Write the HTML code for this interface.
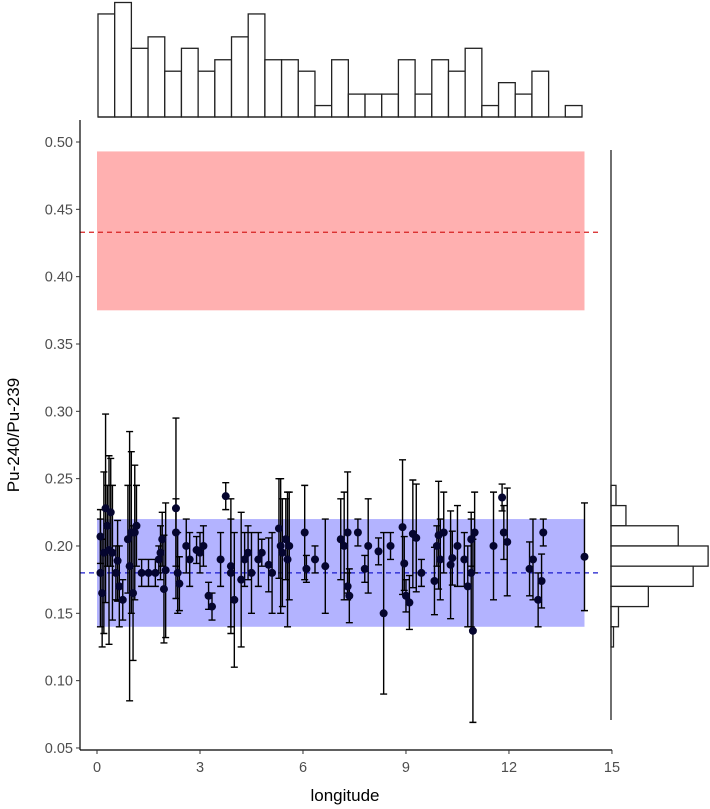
<!DOCTYPE html>
<html><head><meta charset="utf-8"><style>
html,body{margin:0;padding:0;background:#fff;}
svg{display:block;font-family:"Liberation Sans",sans-serif;}
</style></head><body>
<svg id="chart" width="710" height="809"></svg>
<script>
const lon = [0.1,0.1,0.15,0.2,0.25,0.3,0.35,0.4,0.45,0.55,0.6,0.65,0.75,0.9,0.95,1.0,1.05,1.1,1.15,1.3,1.5,1.7,1.8,1.85,1.9,1.95,2.0,2.3,2.3,2.35,2.4,2.6,2.7,2.9,3.0,3.1,3.25,3.35,3.6,3.75,3.9,3.9,4.0,4.2,4.3,4.4,4.5,4.7,4.8,5.0,5.1,5.3,5.35,5.4,5.5,5.55,5.6,6.05,6.1,6.35,6.65,7.1,7.2,7.3,7.3,7.35,7.6,7.8,7.9,8.2,8.35,8.55,8.9,8.95,9.0,9.1,9.2,9.3,9.45,9.83,9.9,9.95,10.0,10.1,10.3,10.35,10.5,10.7,10.8,10.9,10.9,10.95,11.0,11.55,11.8,11.85,11.95,12.6,12.7,12.85,12.95,13.0,14.2];
const ratio = [0.207,0.18,0.165,0.195,0.228,0.215,0.197,0.225,0.195,0.18,0.189,0.17,0.16,0.205,0.185,0.21,0.165,0.21,0.215,0.18,0.18,0.18,0.19,0.195,0.205,0.168,0.182,0.228,0.21,0.18,0.172,0.2,0.19,0.197,0.195,0.2,0.163,0.155,0.19,0.237,0.185,0.18,0.16,0.175,0.19,0.195,0.18,0.19,0.195,0.186,0.18,0.213,0.2,0.195,0.205,0.19,0.2,0.21,0.183,0.19,0.185,0.205,0.2,0.21,0.17,0.163,0.21,0.183,0.2,0.196,0.15,0.2,0.214,0.187,0.163,0.158,0.209,0.206,0.18,0.174,0.2,0.208,0.19,0.21,0.186,0.191,0.2,0.19,0.17,0.18,0.205,0.137,0.21,0.2,0.236,0.21,0.203,0.183,0.19,0.16,0.174,0.21,0.192];
const err = [0.02,0.04,0.04,0.06,0.07,0.03,0.07,0.04,0.05,0.02,0.03,0.03,0.015,0.04,0.1,0.06,0.05,0.05,0.03,0.01,0.01,0.01,0.01,0.02,0.02,0.04,0.05,0.067,0.025,0.03,0.02,0.02,0.02,0.01,0.015,0.015,0.01,0.01,0.02,0.01,0.05,0.04,0.05,0.05,0.02,0.02,0.03,0.02,0.01,0.02,0.03,0.037,0.05,0.04,0.03,0.05,0.04,0.035,0.01,0.01,0.035,0.03,0.04,0.045,0.01,0.02,0.01,0.01,0.035,0.01,0.06,0.01,0.05,0.02,0.012,0.02,0.04,0.04,0.01,0.025,0.015,0.04,0.03,0.03,0.04,0.02,0.03,0.02,0.03,0.04,0.02,0.068,0.03,0.04,0.01,0.02,0.04,0.02,0.03,0.02,0.02,0.01,0.04];
const topCounts = [9,10,6,7,4,6,4,5,7,9,5,5,4,1,5,2,2,2,5,2,5,4,6,1,3,2,4,0,1];
const rightCounts = [2,6,27,39,33,15,3,1];
const rightBinTop = 0.245, rightBinWidth = 0.015;
const yTicks = [0.05,0.10,0.15,0.20,0.25,0.30,0.35,0.40,0.45,0.50];
const xTicks = [0,3,6,9,12,15];
const pinkBand = [0.375,0.493], pinkMean = 0.433;
const blueBand = [0.14,0.22], blueMean = 0.18;
const lonMin = 0, lonMax = 14.2;

const NS='http://www.w3.org/2000/svg';
const svg=document.getElementById('chart');
const X=v=>97+v*34.33;
const Y=v=>142+(0.5-v)/0.05*67.33;
function mk(tag,attrs,parent){const e=document.createElementNS(NS,tag);for(const k in attrs)e.setAttribute(k,attrs[k]);(parent||svg).appendChild(e);return e;}

let e=mk('rect',{x:X(lonMin),y:Y(pinkBand[1]),width:X(lonMax)-X(lonMin),height:Y(pinkBand[0])-Y(pinkBand[1]),fill:'#ffb0b0'});


e=mk('rect',{x:X(lonMin),y:Y(blueBand[1]),width:X(lonMax)-X(lonMin),height:Y(blueBand[0])-Y(blueBand[1]),fill:'#b3b3ff'});


e=mk('line',{x1:80,x2:600,y1:Y(pinkMean),y2:Y(pinkMean),stroke:'#d62020','stroke-width':1.2,'stroke-dasharray':'5,4'});


e=mk('line',{x1:80,x2:600,y1:Y(blueMean),y2:Y(blueMean),stroke:'#1a1acc','stroke-width':1.2,'stroke-dasharray':'5,4'});



const g=mk('g',{});


for(let i=0;i<lon.length;i++){
  const x=X(lon[i]),y1=Y(ratio[i]+err[i]),y2=Y(ratio[i]-err[i]);
  const eb=mk('path',{d:`M${x},${y1}V${y2}M${x-3.5},${y1}H${x+3.5}M${x-3.5},${y2}H${x+3.5}`,stroke:'#000','stroke-width':1.4,fill:'none'},g);
  
  
}
for(let i=0;i<lon.length;i++){
  const c=mk('circle',{cx:X(lon[i]),cy:Y(ratio[i]),r:4,fill:'#05052e'},g);
  
  
}

e=mk('line',{x1:80,x2:80,y1:120,y2:750,stroke:'#000','stroke-width':1.2});


e=mk('line',{x1:80,x2:612,y1:750,y2:750,stroke:'#000','stroke-width':1.2});


yTicks.forEach(v=>{
  const t=mk('line',{x1:76,x2:80,y1:Y(v),y2:Y(v),stroke:'#333'});
  
  
  const l=mk('text',{x:73,y:Y(v)+5,'text-anchor':'end','font-size':14.5,fill:'#4d4d4d'});
  l.textContent=v.toFixed(2);
  
  
});
xTicks.forEach(v=>{
  const t=mk('line',{x1:X(v),x2:X(v),y1:750,y2:754,stroke:'#333'});
  
  
  const l=mk('text',{x:X(v),y:772,'text-anchor':'middle','font-size':14.5,fill:'#4d4d4d'});
  l.textContent=v;
  
  
});
e=mk('text',{x:345,y:801,'text-anchor':'middle','font-size':17,fill:'#000'});
e.textContent='longitude';


e=mk('text',{x:19,y:435,'text-anchor':'middle','font-size':17,fill:'#000',transform:'rotate(-90 19 435)'});
e.textContent='Pu-240/Pu-239';



const tg=mk('g',{});


const bw=(582-98)/topCounts.length, unit=11.45, base=117;
topCounts.forEach((c,i)=>{
  const r=mk('rect',{x:98+i*bw,y:base-c*unit,width:bw,height:c*unit,fill:'#fff',stroke:'#222','stroke-width':1.3},tg);
  
  
});
e=mk('line',{x1:98,x2:582,y1:base,y2:base,stroke:'#222','stroke-width':1.3},tg);



const rg=mk('g',{});


const ru=2.49, rx=611;
rightCounts.forEach((c,i)=>{
  const top=rightBinTop-i*rightBinWidth;
  const r=mk('rect',{x:rx,y:Y(top),width:c*ru,height:Y(top-rightBinWidth)-Y(top),fill:'#fff',stroke:'#222','stroke-width':1.3},rg);
  
  
});
e=mk('line',{x1:rx,x2:rx,y1:150,y2:720,stroke:'#222','stroke-width':1.3},rg);


</script>
</body></html>
